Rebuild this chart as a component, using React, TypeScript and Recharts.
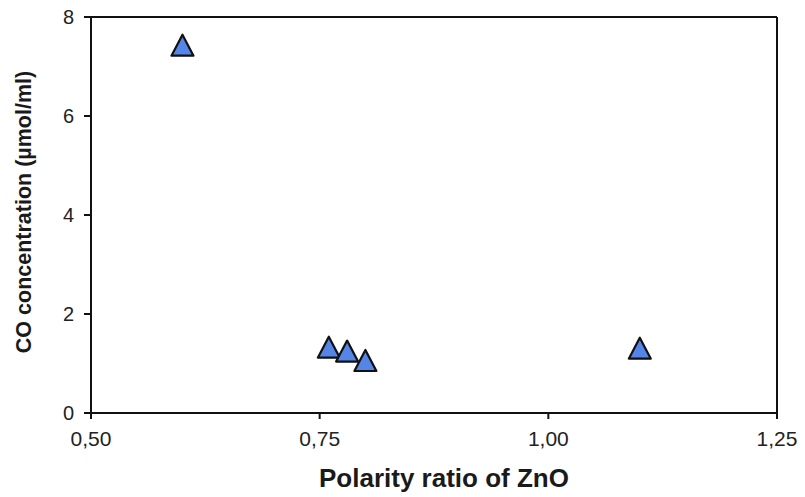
import { ScatterChart, Scatter, XAxis, YAxis, ReferenceLine } from "recharts";

const polarityRatio = [0.6, 0.76, 0.78, 0.8, 1.1];
const coConcentration = [7.4, 1.3, 1.22, 1.03, 1.28];
const xTicks = [0.5, 0.75, 1.0, 1.25];
const yTicks = [0, 2, 4, 6, 8];

const points = polarityRatio.map((x, i) => ({ x, y: coConcentration[i] }));

const font = "'Liberation Sans', Arial, sans-serif";

const Triangle = (props: any) => {
  const { cx, cy } = props;
  const pts = `${cx},${cy - 12} ${cx - 11},${cy + 9} ${cx + 11},${cy + 9}`;
  return <polygon points={pts} fill="#5585e6" stroke="#111" strokeWidth={2.2} strokeLinejoin="round" />;
};

const YTitle = () => (
  <text
    x={24}
    y={212}
    transform="rotate(-90, 24, 212)"
    textAnchor="middle"
    dominantBaseline="central"
    fontFamily={font}
    fontWeight="bold"
    fontSize={21.5}
    fill="#1a1a1a"
  >
    CO concentration (µmol/ml)
  </text>
);

const XTitle = () => (
  <text
    x={444}
    y={478}
    textAnchor="middle"
    dominantBaseline="central"
    fontFamily={font}
    fontWeight="bold"
    fontSize={26}
    fill="#1a1a1a"
  >
    Polarity ratio of ZnO
  </text>
);

export default function App() {
  return (
    <div style={{ position: "absolute", left: 0, top: 0, background: "#fff" }}>
      <ScatterChart width={805} height={497} margin={{ top: 17, right: 28, bottom: 0, left: 0 }}>
        <XAxis
          type="number"
          dataKey="x"
          domain={[0.5, 1.25]}
          ticks={xTicks}
          height={84}
          tickFormatter={(v: number) => v.toFixed(2).replace(".", ",")}
          stroke="#111"
          strokeWidth={2}
          tickSize={6}
          tickMargin={12}
          tick={{ fontSize: 21, fill: "#222", fontFamily: font }}
          label={<XTitle />}
        />
        <YAxis
          type="number"
          dataKey="y"
          domain={[0, 8]}
          ticks={yTicks}
          width={91}
          stroke="#111"
          strokeWidth={2}
          tickSize={7}
          tickMargin={10}
          tick={{ fontSize: 20, fill: "#222", fontFamily: font }}
          label={<YTitle />}
        />
        <ReferenceLine y={8} stroke="#111" strokeWidth={2} />
        <ReferenceLine x={1.25} stroke="#111" strokeWidth={2} />
        <Scatter data={points} shape={<Triangle />} isAnimationActive={false} />
      </ScatterChart>
    </div>
  );
}
